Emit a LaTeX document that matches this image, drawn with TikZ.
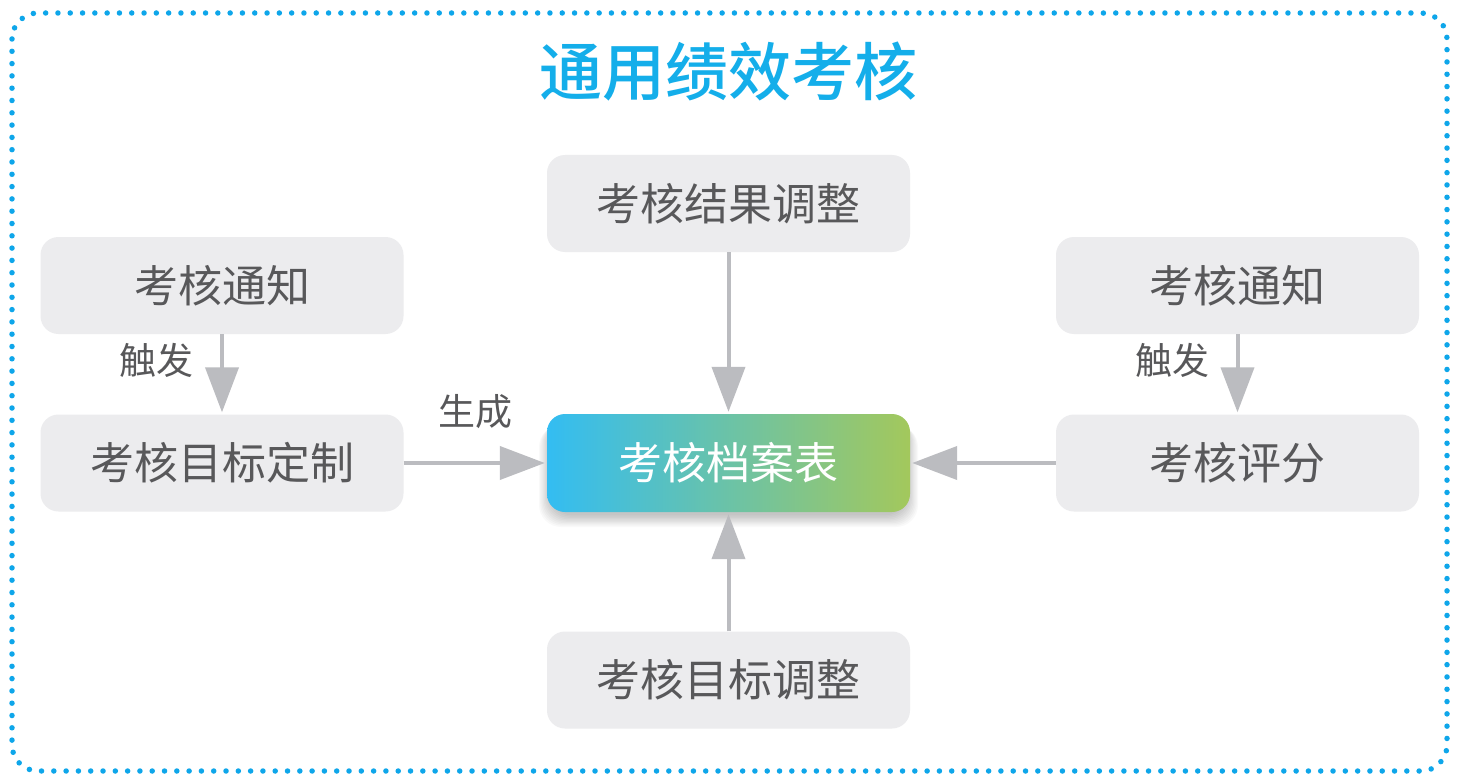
\documentclass[tikz,border=0pt]{standalone}
\usepackage{fontspec}
\setmainfont{Noto Sans CJK SC}
\newfontfamily\titlefont{Noto Sans CJK SC Medium}
\usetikzlibrary{arrows.meta}
\definecolor{bordc}{RGB}{14,166,234}
\definecolor{titlec}{RGB}{20,174,234}
\definecolor{boxfill}{RGB}{236,236,238}
\definecolor{boxtext}{RGB}{88,88,90}
\definecolor{arrowc}{RGB}{187,188,192}
\definecolor{gleft}{RGB}{51,189,242}
\definecolor{gmid}{RGB}{58,196,178}
\definecolor{gright}{RGB}{163,200,92}
\tikzset{
  graybox/.style={rectangle, rounded corners=18pt, fill=boxfill, text=boxtext,
    minimum width=363pt, minimum height=97pt, inner sep=0pt, font=\fontsize{44}{50}\selectfont},
  centerbox/.style={rectangle, rounded corners=18pt, left color=gleft, middle color=gmid, right color=gright,
    text=white, minimum width=363pt, minimum height=98pt, inner sep=0pt, font=\fontsize{44}{50}\selectfont},
  flow/.style={draw=arrowc, line width=4pt, -{Triangle[length=45pt,width=33pt]}, shorten >=2pt},
  lbl/.style={text=boxtext, inner sep=0pt, font=\fontsize{37}{42}\selectfont},
}
\begin{document}
\begin{tikzpicture}[x=1pt,y=-1pt]
\useasboundingbox (0,0) rectangle (1457,781);
\fill[white] (0,0) rectangle (1457,781);
\draw[bordc, line width=5.5pt, line cap=round, dash pattern=on 0pt off 12.3pt, rounded corners=26pt]
  (12,13) rectangle (1447,771);
\node[titlec, font=\fontsize{63}{70}\selectfont\titlefont, inner sep=0pt] (title) at (728,72) {通用绩效考核};
% shadow under center box
\foreach \i in {1,...,10}{
  \fill[black, opacity=0.025, rounded corners=22pt]
    (547-1.2*\i+4, 416+0.9*\i) rectangle (910+1.2*\i-4, 514+1.3*\i);
}
\node[graybox] (top) at (728.5,203.5) {考核结果调整};
\node[graybox] (ln) at (222,285.5) {考核通知};
\node[graybox] (lt) at (222,463) {考核目标定制};
\node[centerbox] (c) at (728.5,463) {考核档案表};
\node[graybox] (rn) at (1237.5,285.5) {考核通知};
\node[graybox] (rs) at (1237.5,463) {考核评分};
\node[graybox] (bot) at (728.5,680) {考核目标调整};
\draw[flow] (ln) -- (lt);
\draw[flow] (rn) -- (rs);
\draw[flow] (lt) -- (c);
\draw[flow] (rs) -- (c);
\draw[flow] (top) -- (c);
\draw[flow] (bot) -- (c);
\node[lbl] (l1) at (156,360) {触发};
\node[lbl] (l2) at (1172,360) {触发};
\node[lbl] (l3) at (475,412) {生成};
\end{tikzpicture}
\end{document}
